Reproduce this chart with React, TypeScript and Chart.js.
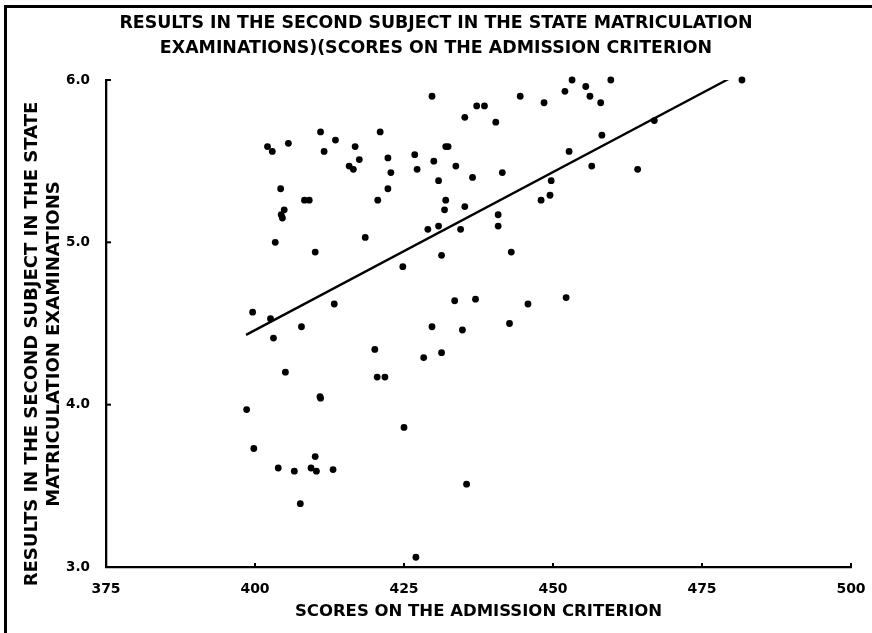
import { useEffect, useRef } from "react";
import { Chart, registerables } from "chart.js";

Chart.register(...registerables);

const TITLE_LINES = [
  "RESULTS IN THE SECOND SUBJECT IN THE STATE MATRICULATION",
  "EXAMINATIONS)(SCORES ON THE ADMISSION CRITERION",
];
const X_TITLE = "SCORES ON THE ADMISSION CRITERION";
const Y_TITLE_LINES = ["RESULTS IN THE SECOND SUBJECT IN THE STATE", "MATRICULATION EXAMINATIONS"];

const X_TICKS = [375, 400, 425, 450, 475, 500];
const Y_TICKS = [3, 4, 5, 6];

const SCORES = [
  402.1, 402.9, 405.6, 411.0, 411.6, 413.5, 416.8, 417.5, 415.8, 416.5,
  404.3, 408.3, 409.1, 404.9, 404.4, 404.6, 403.4, 410.1, 429.7, 437.2,
  438.5, 444.5, 448.5, 452.0, 453.2, 455.5, 456.2, 458.0, 459.7, 435.2,
  440.4, 421.0, 422.3, 422.8, 422.3, 420.6, 418.5, 426.8, 427.2, 430.0,
  432.0, 432.4, 433.7, 430.8, 436.5, 441.5, 432.0, 431.8, 435.2, 429.0,
  430.8, 434.5, 431.3, 440.8, 440.8, 443.0, 448.0, 449.5, 449.7, 452.7,
  456.5, 458.2, 467.0, 464.2, 481.7, 399.6, 402.6, 403.1, 407.8, 413.3,
  405.1, 410.9, 411.0, 398.6, 424.8, 433.5, 437.0, 445.8, 452.2, 429.7,
  434.8, 442.7, 420.1, 428.3, 431.3, 420.5, 421.8, 425.0, 399.8, 403.9,
  406.6, 409.4, 410.3, 410.1, 413.1, 407.6, 435.5, 427.0,
];
const RESULTS = [
  5.59, 5.56, 5.61, 5.68, 5.56, 5.63, 5.59, 5.51, 5.47, 5.45,
  5.33, 5.26, 5.26, 5.20, 5.17, 5.15, 5.00, 4.94, 5.90, 5.84,
  5.84, 5.90, 5.86, 5.93, 6.00, 5.96, 5.90, 5.86, 6.00, 5.77,
  5.74, 5.68, 5.52, 5.43, 5.33, 5.26, 5.03, 5.54, 5.45, 5.50,
  5.59, 5.59, 5.47, 5.38, 5.40, 5.43, 5.26, 5.20, 5.22, 5.08,
  5.10, 5.08, 4.92, 5.17, 5.10, 4.94, 5.26, 5.29, 5.38, 5.56,
  5.47, 5.66, 5.75, 5.45, 6.00, 4.57, 4.53, 4.41, 4.48, 4.62,
  4.20, 4.05, 4.04, 3.97, 4.85, 4.64, 4.65, 4.62, 4.66, 4.48,
  4.46, 4.50, 4.34, 4.29, 4.32, 4.17, 4.17, 3.86, 3.73, 3.61,
  3.59, 3.61, 3.59, 3.68, 3.60, 3.39, 3.51, 3.06,
];

const TREND_X = [398.5, 481.7];
const TREND_Y = [4.43, 6.05];

const FONT = '"DejaVu Sans", Verdana, sans-serif';

const decorPlugin = {
  id: "decor",
  beforeDraw(chart: any) {
    const ctx = chart.ctx;
    ctx.save();
    ctx.fillStyle = "#fff";
    ctx.fillRect(0, 0, chart.width, chart.height);
    ctx.fillStyle = "#000";
    ctx.fillRect(4, 5, 3, chart.height - 5);
    ctx.fillRect(4, 5, chart.width - 4, 3);
    ctx.restore();
  },
  afterDraw(chart: any) {
    const ctx = chart.ctx;
    const xs = chart.scales.x;
    const ys = chart.scales.y;
    const area = chart.chartArea;
    ctx.save();
    ctx.strokeStyle = "#000";
    ctx.lineWidth = 2;
    X_TICKS.forEach((v) => {
      const px = xs.getPixelForValue(v);
      ctx.beginPath();
      ctx.moveTo(px, area.bottom);
      ctx.lineTo(px, area.bottom - 4);
      ctx.stroke();
    });
    Y_TICKS.forEach((v) => {
      const py = ys.getPixelForValue(v);
      ctx.beginPath();
      ctx.moveTo(area.left, py);
      ctx.lineTo(area.left + 5, py);
      ctx.stroke();
    });
    // y axis title (two lines, rotated)
    ctx.fillStyle = "#000";
    ctx.font = `bold 18px ${FONT}`;
    ctx.textAlign = "center";
    ctx.textBaseline = "middle";
    const cy = 344;
    [32, 54].forEach((x, i) => {
      ctx.save();
      ctx.translate(x, cy);
      ctx.rotate(-Math.PI / 2);
      ctx.fillText(Y_TITLE_LINES[i], 0, 0);
      ctx.restore();
    });
    ctx.restore();
  },
};

export default function App() {
  const ref = useRef<HTMLCanvasElement | null>(null);

  useEffect(() => {
    if (!ref.current) return;
    const points = SCORES.map((x, i) => ({ x, y: RESULTS[i] }));
    const trend = TREND_X.map((x, i) => ({ x, y: TREND_Y[i] }));
    const chart = new Chart(ref.current, {
      type: "scatter",
      data: {
        datasets: [
          {
            type: "line",
            data: trend,
            borderColor: "#000",
            borderWidth: 2.3,
            pointRadius: 0,
            fill: false,
          } as any,
          {
            data: points,
            backgroundColor: "#000",
            borderColor: "#000",
            pointRadius: 3.4,
            pointHoverRadius: 3.4,
            borderWidth: 0,
            clip: false,
          } as any,
        ],
      },
      options: {
        animation: false,
        responsive: false,
        maintainAspectRatio: false,
        events: [],
        layout: { autoPadding: false, padding: { left: 21, right: 21, top: 0, bottom: 0 } },
        plugins: {
          legend: { display: false },
          tooltip: { enabled: false },
          title: {
            display: true,
            text: TITLE_LINES,
            color: "#000",
            font: { family: FONT, size: 17.4, weight: "bold", lineHeight: 25 / 17.4 },
            padding: { top: 11, bottom: 19 },
          },
        },
        scales: {
          x: {
            type: "linear",
            min: 375,
            max: 500,
            afterBuildTicks: (s: any) => {
              s.ticks = X_TICKS.map((v) => ({ value: v }));
            },
            afterFit: (s: any) => {
              s.height = 66;
              s.paddingLeft = 0;
              s.paddingRight = 0;
            },
            grid: { display: false },
            border: { display: true, color: "#000", width: 2.3 },
            ticks: {
              color: "#000",
              padding: 6,
              maxRotation: 0,
              autoSkip: false,
              font: { family: FONT, size: 14, weight: "bold" },
              callback: (v: any) => String(v),
            },
            title: {
              display: true,
              text: X_TITLE,
              color: "#000",
              font: { family: FONT, size: 16.5, weight: "bold", lineHeight: 1.2 },
              padding: { top: 0, bottom: 11 },
            },
          },
          y: {
            type: "linear",
            min: 3,
            max: 6,
            afterBuildTicks: (s: any) => {
              s.ticks = Y_TICKS.map((v) => ({ value: v }));
            },
            afterFit: (s: any) => {
              s.width = 85;
              s.paddingTop = 0;
              s.paddingBottom = 0;
            },
            grid: { display: false },
            border: { display: true, color: "#000", width: 2.3 },
            ticks: {
              color: "#000",
              padding: 8,
              autoSkip: false,
              font: { family: FONT, size: 13.5, weight: "bold" },
              callback: (v: any) => Number(v).toFixed(1),
            },
          },
        },
      },
      plugins: [decorPlugin],
    });
    return () => chart.destroy();
  }, []);

  return (
    <div style={{ position: "absolute", left: 0, top: 0, width: 872, height: 633, background: "#fff" }}>
      <canvas ref={ref} width={872} height={633} style={{ width: 872, height: 633, display: "block" }} />
    </div>
  );
}
